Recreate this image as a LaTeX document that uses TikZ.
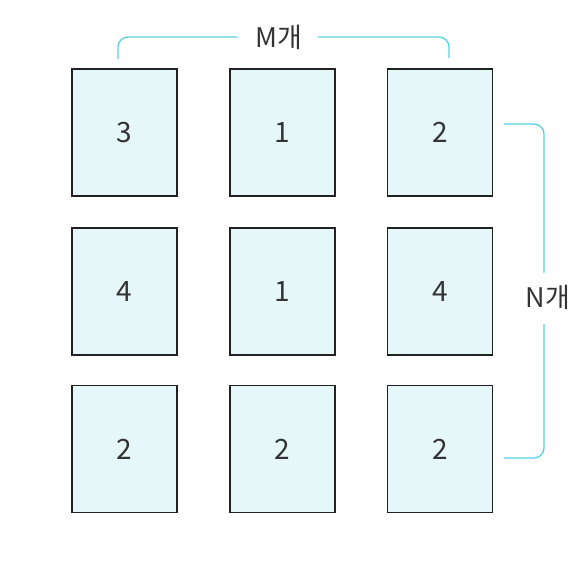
\documentclass[tikz,border=0pt]{standalone}
\usepackage{fontspec}
\setmainfont{Noto Sans CJK KR}
\usepackage{xcolor}
\usepackage{tikz}
\usetikzlibrary{positioning,calc}

\definecolor{cellfill}{HTML}{E6F7FA}
\definecolor{bracketcyan}{HTML}{55D2E0}
\definecolor{cellline}{HTML}{222222}

\begin{document}
\begin{tikzpicture}[
    x=1pt, y=-1pt,
    cell/.style={rectangle, draw=cellline, line width=1.2pt, fill=cellfill,
        minimum width=105pt, minimum height=127pt, inner sep=0pt,
        font=\fontsize{28}{32}\selectfont, text=black!80},
    bracket/.style={draw=bracketcyan, line width=1.3pt, rounded corners=10pt},
    countlabel/.style={font=\fontsize{27}{32}\selectfont, text=black!80, inner sep=0pt}
]
\useasboundingbox (0,0) rectangle (584,564);

% 3x3 grid
\node[cell] (c11) at (124.5,132.5) {3};
\node[cell] (c12) at (282.5,132.5) {1};
\node[cell] (c13) at (440,132.5) {2};
\node[cell] (c21) at (124.5,291.5) {4};
\node[cell] (c22) at (282.5,291.5) {1};
\node[cell] (c23) at (440,291.5) {4};
\node[cell] (c31) at (124.5,449) {2};
\node[cell] (c32) at (282.5,449) {2};
\node[cell] (c33) at (440,449) {2};

% Labels
\node[countlabel] (mlabel) at (279,37) {M개};
\node[countlabel] (nlabel) at (548,297) {N개};

% Bracket ends
\coordinate (mL) at (118,59);
\coordinate (mgapL) at (237,37);
\coordinate (mgapR) at (318,37);
\coordinate (mR) at (449,58);
\coordinate (nT) at (504,124);
\coordinate (ngapT) at (544,273);
\coordinate (ngapB) at (544,324);
\coordinate (nB) at (504,458);

% Brackets
\draw[bracket] (mL) |- (mgapL);
\draw[bracket] (mgapR) -| (mR);
\draw[bracket] (nT) -| (ngapT);
\draw[bracket] (ngapB) |- (nB);

\end{tikzpicture}
\end{document}
